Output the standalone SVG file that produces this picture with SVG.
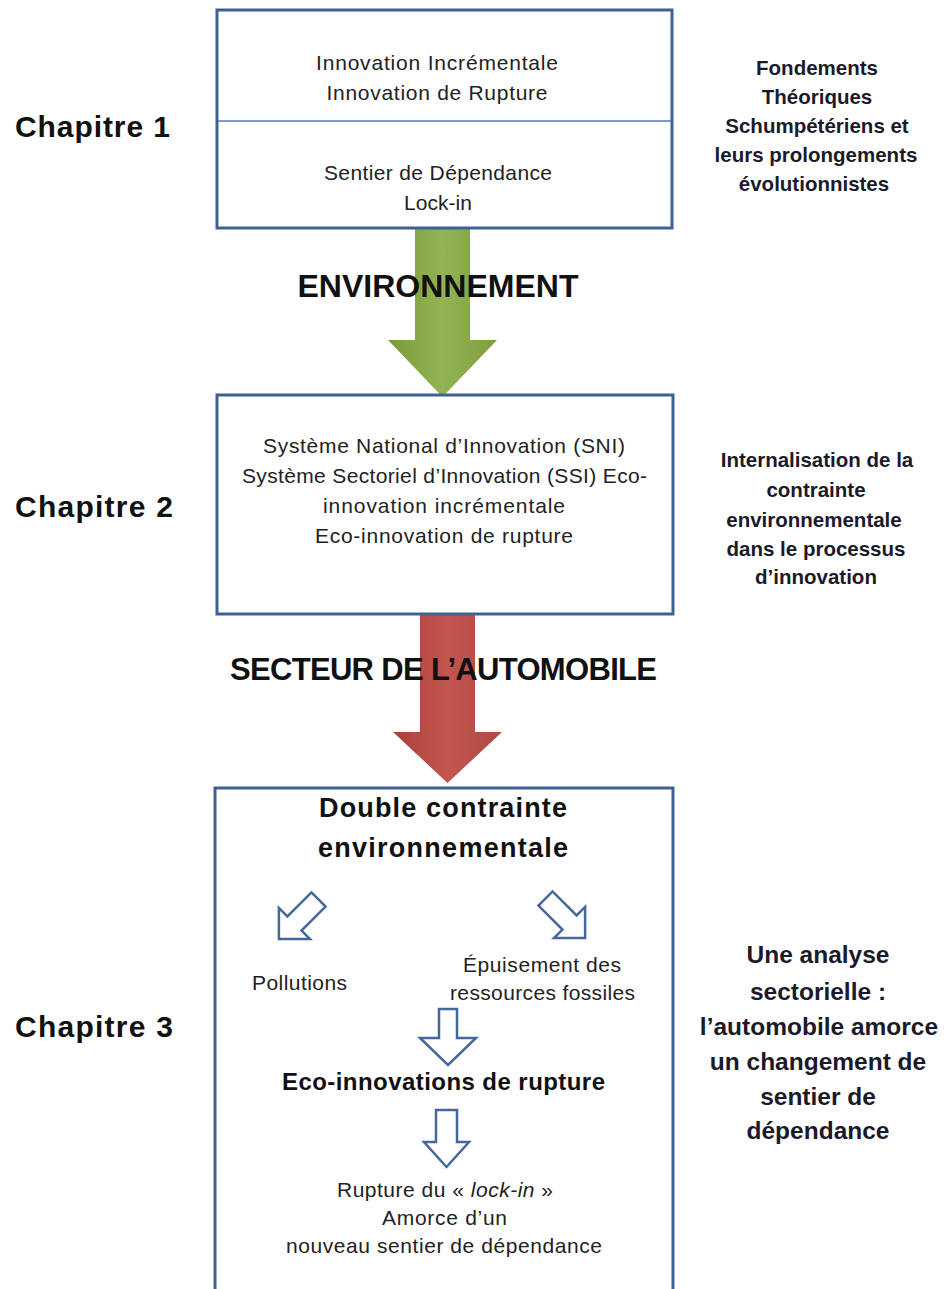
<svg xmlns="http://www.w3.org/2000/svg" width="949" height="1289" viewBox="0 0 949 1289">
<style>
.box{fill:#fff;stroke:#3F6094;stroke-width:3}
.div{stroke:#4F7BB5;stroke-width:1.5}
.t{font-family:"Liberation Sans",Arial,sans-serif;font-size:21px;fill:#222;text-anchor:middle}
.b{font-family:"Liberation Sans",Arial,sans-serif;font-weight:bold;fill:#111;text-anchor:middle}
.ch{font-family:"Liberation Sans",Arial,sans-serif;font-weight:bold;font-size:30px;fill:#111}
.side{font-family:"Liberation Sans",Arial,sans-serif;font-weight:bold;font-size:20.5px;fill:#1a1a2a;text-anchor:middle}
.side3{font-family:"Liberation Sans",Arial,sans-serif;font-weight:bold;font-size:24.5px;fill:#1a1a2a;text-anchor:middle}
.oa{fill:#fff;stroke:#46679B;stroke-width:2.5;stroke-linejoin:miter}
</style>
<defs>
<linearGradient id="gg" x1="0" y1="0" x2="1" y2="0">
<stop offset="0" stop-color="#7A9A3A"/><stop offset="0.5" stop-color="#93B453"/><stop offset="1" stop-color="#7E9E3E"/>
</linearGradient>
<linearGradient id="rg" x1="0" y1="0" x2="1" y2="0">
<stop offset="0" stop-color="#A9413E"/><stop offset="0.5" stop-color="#C4554F"/><stop offset="1" stop-color="#B04845"/>
</linearGradient>
</defs>
<rect width="949" height="1289" fill="#fff"/>

<g id="connectors">
<path id="arrow-environnement" d="M415,228 L470,228 L470,340 L497,340 L442.5,397 L388,340 L415,340 Z" fill="url(#gg)"/>
<path id="arrow-automobile" d="M420,614 L475,614 L475,732 L502,732 L447.5,783 L393,732 L420,732 Z" fill="url(#rg)"/>
</g>

<g id="chapitre1">
<rect class="box" x="217" y="10" width="455" height="218"/>
<line class="div" x1="218" y1="121" x2="671" y2="121"/>
<text class="t" x="437" y="70" textLength="242" lengthAdjust="spacing">Innovation Incrémentale</text>
<text class="t" x="437" y="100" textLength="221" lengthAdjust="spacing">Innovation de Rupture</text>
<text class="t" x="438" y="180" textLength="228" lengthAdjust="spacing">Sentier de Dépendance</text>
<text class="t" x="438" y="210" textLength="68" lengthAdjust="spacing">Lock-in</text>
</g>

<g id="label-environnement">
<text class="b" x="438" y="297" font-size="32" textLength="281" lengthAdjust="spacing">ENVIRONNEMENT</text>
</g>

<g id="chapitre2">
<rect class="box" x="217" y="395" width="456" height="219"/>
<text class="t" x="444" y="453" textLength="362" lengthAdjust="spacing">Système National d’Innovation (SNI)</text>
<text class="t" x="444.5" y="483" textLength="405" lengthAdjust="spacing">Système Sectoriel d’Innovation (SSI) Eco-</text>
<text class="t" x="444" y="513" textLength="242" lengthAdjust="spacing">innovation incrémentale</text>
<text class="t" x="444" y="543" textLength="258" lengthAdjust="spacing">Eco-innovation de rupture</text>
</g>

<g id="label-automobile">
<text class="b" x="443.5" y="680" font-size="31" textLength="427" lengthAdjust="spacing">SECTEUR DE L’AUTOMOBILE</text>
</g>

<g id="chapitre3">
<rect class="box" x="215" y="788" width="458" height="530"/>
<text class="b" x="443" y="817" font-size="27" textLength="248" lengthAdjust="spacing">Double contrainte</text>
<text class="b" x="443" y="857" font-size="27" textLength="250" lengthAdjust="spacing">environnementale</text>
<path class="oa" transform="translate(318.5,899.5) rotate(45)" d="M-10,0 L10,0 L10,34 L22,34 L0,56 L-22,34 L-10,34 Z"/>
<path class="oa" transform="translate(545.5,898.5) rotate(-45)" d="M-10,0 L10,0 L10,34 L22,34 L0,56 L-22,34 L-10,34 Z"/>
<text class="t" x="299.5" y="990" font-size="19" textLength="95" lengthAdjust="spacing">Pollutions</text>
<text class="t" x="542" y="972" font-size="19" textLength="158" lengthAdjust="spacing">Épuisement des</text>
<text class="t" x="542.5" y="1000" font-size="19" textLength="185" lengthAdjust="spacing">ressources fossiles</text>
<path class="oa" d="M439,1009 L457,1009 L457,1038 L476,1038 L448,1065 L420,1038 L439,1038 Z"/>
<text class="b" x="443.5" y="1090" font-size="24" textLength="323" lengthAdjust="spacing">Eco-innovations de rupture</text>
<path class="oa" d="M436,1110 L457,1110 L457,1142 L469,1142 L446.5,1167 L424,1142 L436,1142 Z"/>
<text class="t" x="445" y="1197" font-size="19" textLength="216" lengthAdjust="spacing">Rupture du « <tspan font-style="italic">lock-in</tspan> »</text>
<text class="t" x="444.5" y="1225" font-size="19" textLength="125" lengthAdjust="spacing">Amorce d’un</text>
<text class="t" x="444" y="1253" font-size="19" textLength="316" lengthAdjust="spacing">nouveau sentier de dépendance</text>
</g>

<g id="chapter-labels">
<text class="ch" x="15" y="137" textLength="155" lengthAdjust="spacing">Chapitre 1</text>
<text class="ch" x="15" y="517" textLength="158" lengthAdjust="spacing">Chapitre 2</text>
<text class="ch" x="15" y="1037" textLength="158" lengthAdjust="spacing">Chapitre 3</text>
</g>

<g id="note1">
<text class="side" x="817" y="75">Fondements</text>
<text class="side" x="817" y="104">Théoriques</text>
<text class="side" x="817" y="133">Schumpétériens et</text>
<text class="side" x="816" y="162">leurs prolongements</text>
<text class="side" x="814" y="191">évolutionnistes</text>
</g>

<g id="note2">
<text class="side" x="817" y="467">Internalisation de la</text>
<text class="side" x="816" y="497">contrainte</text>
<text class="side" x="814" y="527">environnementale</text>
<text class="side" x="816" y="556">dans le processus</text>
<text class="side" x="816" y="584">d’innovation</text>
</g>

<g id="note3">
<text class="side3" x="818" y="963">Une analyse</text>
<text class="side3" x="818" y="1000">sectorielle :</text>
<text class="side3" x="819" y="1035">l’automobile amorce</text>
<text class="side3" x="818" y="1070">un changement de</text>
<text class="side3" x="818" y="1105">sentier de</text>
<text class="side3" x="818" y="1139">dépendance</text>
</g>
</svg>
